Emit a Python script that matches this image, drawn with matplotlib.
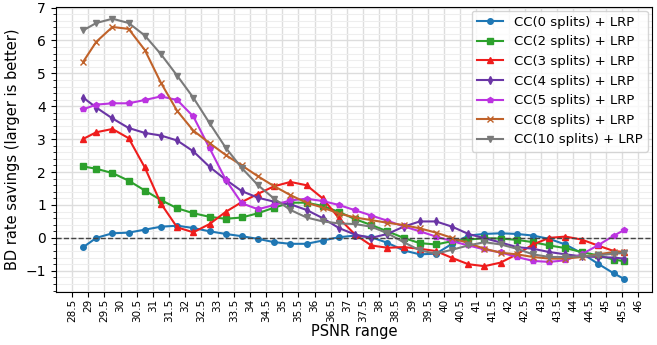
import numpy as np
import matplotlib
matplotlib.use("Agg")
import matplotlib.pyplot as plt
from matplotlib.ticker import MultipleLocator

# PSNR bin positions (first/last bins are partial)
psnr = [28.85] + [29.25 + 0.5 * i for i in range(33)] + [45.57]

cc0 = [-0.28, 0.00, 0.14, 0.16, 0.25, 0.34, 0.37, 0.30, 0.20, 0.12,
       0.05, -0.03, -0.13, -0.18, -0.18, -0.08, 0.02, 0.07, 0.02, -0.15,
       -0.38, -0.50, -0.48, -0.18, 0.07, 0.12, 0.14, 0.12, 0.07, -0.03,
       -0.20, -0.46, -0.78, -1.08, -1.25]
cc2 = [2.17, 2.10, 1.97, 1.74, 1.44, 1.15, 0.90, 0.75, 0.64, 0.58,
       0.62, 0.75, 0.92, 1.07, 1.07, 0.97, 0.79, 0.57, 0.39, 0.20,
       0.00, -0.16, -0.20, -0.10, -0.05, -0.01, -0.02, -0.06, -0.13, -0.23,
       -0.31, -0.43, -0.53, -0.66, -0.71]
cc3 = [3.01, 3.21, 3.31, 3.03, 2.14, 1.04, 0.32, 0.17, 0.42, 0.79,
       1.09, 1.34, 1.57, 1.70, 1.60, 1.20, 0.60, 0.10, -0.23, -0.30,
       -0.28, -0.33, -0.40, -0.61, -0.80, -0.86, -0.75, -0.50, -0.20, 0.00,
       0.04, -0.05, -0.23, -0.40, -0.43]
cc4 = [4.26, 3.96, 3.63, 3.34, 3.19, 3.11, 2.96, 2.63, 2.16, 1.77,
       1.42, 1.22, 1.10, 1.02, 0.85, 0.60, 0.30, 0.10, 0.00, 0.12,
       0.34, 0.50, 0.50, 0.34, 0.12, -0.01, -0.14, -0.28, -0.33, -0.43,
       -0.50, -0.56, -0.58, -0.60, -0.63]
cc5 = [3.91, 4.05, 4.09, 4.09, 4.19, 4.30, 4.19, 3.69, 2.73, 1.77,
       1.05, 0.87, 1.00, 1.14, 1.19, 1.12, 1.00, 0.84, 0.68, 0.52,
       0.35, 0.20, 0.04, -0.10, -0.23, -0.35, -0.44, -0.58, -0.70, -0.73,
       -0.68, -0.50, -0.23, 0.07, 0.24]
cc8 = [5.36, 5.96, 6.41, 6.35, 5.71, 4.71, 3.86, 3.26, 2.88, 2.52,
       2.20, 1.87, 1.57, 1.30, 1.07, 0.92, 0.74, 0.62, 0.54, 0.46,
       0.39, 0.29, 0.16, 0.00, -0.16, -0.33, -0.45, -0.50, -0.58, -0.63,
       -0.63, -0.58, -0.50, -0.43, -0.43]
cc10 = [6.31, 6.53, 6.66, 6.53, 6.15, 5.58, 4.93, 4.26, 3.49, 2.74,
        2.12, 1.60, 1.19, 0.85, 0.62, 0.50, 0.44, 0.42, 0.34, 0.14,
        -0.13, -0.38, -0.48, -0.36, -0.23, -0.13, -0.20, -0.33, -0.50, -0.58,
        -0.58, -0.56, -0.53, -0.48, -0.46]

labels = ["CC(0 splits) + LRP", "CC(2 splits) + LRP", "CC(3 splits) + LRP",
          "CC(4 splits) + LRP", "CC(5 splits) + LRP", "CC(8 splits) + LRP",
          "CC(10 splits) + LRP"]
series = [cc0, cc2, cc3, cc4, cc5, cc8, cc10]
colors = ["#1f77b4", "#2ca02c", "#ee1c1c", "#6a35a5", "#bb33e0", "#c0622a", "#7a7a7a"]
markers = ["o", "s", "^", "d", "p", "x", "v"]

fig, ax = plt.subplots(figsize=(6.57, 3.45), dpi=100)

for y, lab, c, m in zip(series, labels, colors, markers):
    ax.plot(psnr, y, color=c, marker=m, markersize=4, linewidth=1.5, label=lab)

ax.axhline(0, color="#444444", linestyle="--", linewidth=1)

ax.set_xlim(28.0, 46.42)
ax.set_ylim(-1.63, 7.03)
ax.yaxis.set_major_locator(MultipleLocator(1))
ax.yaxis.set_minor_locator(MultipleLocator(0.2))
ticks = np.arange(28.5, 46.01, 0.5)
ax.set_xticks(ticks)
ax.set_xticklabels([f"{v:g}" for v in ticks], rotation=90, fontsize=7.5)
ax.tick_params(axis="x", pad=2)
ax.tick_params(axis="y", labelsize=10)

ax.grid(which="major", color="#dddddd", linewidth=1)
ax.grid(which="minor", axis="y", color="#eeeeee", linewidth=0.8)
ax.set_axisbelow(True)

ax.set_xlabel("PSNR range", fontsize=10.5)
ax.xaxis.set_label_coords(0.5, -0.115)
ax.set_ylabel("BD rate savings (larger is better)", fontsize=10.5)
ax.legend(loc="upper right", fontsize=9.5, borderaxespad=0.3)

plt.subplots_adjust(left=0.085, right=0.992, top=0.981, bottom=0.155)
plt.savefig("out.png")
